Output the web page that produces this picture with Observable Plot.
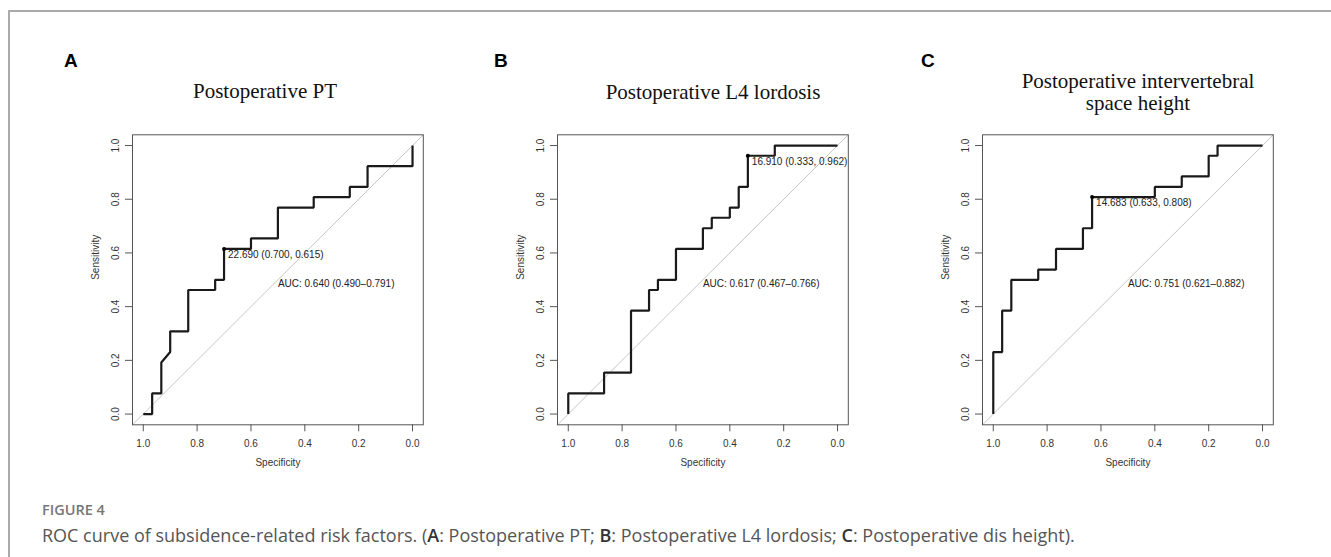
<!DOCTYPE html>
<html><head><meta charset="utf-8">
<script src="https://cdn.jsdelivr.net/npm/d3@7"></script>
<script src="https://cdn.jsdelivr.net/npm/@observablehq/plot@0.6"></script>
<style>
body{margin:0;background:#fff;}
#root{position:relative;width:1331px;height:557px;overflow:hidden;background:#fff;}
.hline{position:absolute;left:8px;top:10px;width:1323px;height:1.5px;background:#ababab;}
.vline{position:absolute;left:8px;top:10px;width:1.5px;height:547px;background:#ababab;}
.letter{position:absolute;font:bold 19px "Liberation Sans",Arial,sans-serif;line-height:19px;color:#000;}
.title{position:absolute;font:21px "Liberation Serif","Times New Roman",serif;line-height:22px;text-align:center;color:#111;transform:translateX(-50%);white-space:nowrap;}
.panel{position:absolute;}
.fig{position:absolute;left:42px;top:500px;font:600 14.5px "Open Sans",sans-serif;color:#777;line-height:20px;}
.cap{position:absolute;left:42px;top:523px;font:400 18px "Open Sans",sans-serif;color:#555;line-height:24px;white-space:nowrap;}
.cap b{font-weight:600;color:#333;}
</style></head><body><div id="root">
<div class="hline"></div><div class="vline"></div>
</div>
<script>
// ---------- data ----------
const panelLetters = ["A", "B", "C"];
const panelTitles = ["Postoperative PT", "Postoperative L4 lordosis", "Postoperative intervertebral<br>space height"];
const xTicks = [1.0, 0.8, 0.6, 0.4, 0.2, 0.0];
const yTicks = [0.0, 0.2, 0.4, 0.6, 0.8, 1.0];

const specA = [1, 0.967, 0.967, 0.933, 0.933, 0.9, 0.9, 0.833, 0.833, 0.733, 0.733, 0.7, 0.7, 0.6, 0.6, 0.5, 0.5, 0.367, 0.367, 0.233, 0.233, 0.167, 0.167, 0, 0];
const sensA = [0, 0, 0.077, 0.077, 0.192, 0.231, 0.308, 0.308, 0.462, 0.462, 0.5, 0.5, 0.615, 0.615, 0.654, 0.654, 0.769, 0.769, 0.808, 0.808, 0.846, 0.846, 0.923, 0.923, 1];

const specB = [1, 1, 0.867, 0.867, 0.767, 0.767, 0.7, 0.7, 0.667, 0.667, 0.6, 0.6, 0.5, 0.5, 0.467, 0.467, 0.4, 0.4, 0.367, 0.367, 0.333, 0.333, 0.233, 0.233, 0];
const sensB = [0, 0.077, 0.077, 0.154, 0.154, 0.385, 0.385, 0.462, 0.462, 0.5, 0.5, 0.615, 0.615, 0.692, 0.692, 0.731, 0.731, 0.769, 0.769, 0.846, 0.846, 0.962, 0.962, 1, 1];

const specC = [1, 1, 0.967, 0.967, 0.933, 0.933, 0.833, 0.833, 0.767, 0.767, 0.667, 0.667, 0.633, 0.633, 0.4, 0.4, 0.3, 0.3, 0.2, 0.2, 0.167, 0.167, 0];
const sensC = [0, 0.231, 0.231, 0.385, 0.385, 0.5, 0.5, 0.538, 0.538, 0.615, 0.615, 0.692, 0.692, 0.808, 0.808, 0.846, 0.846, 0.885, 0.885, 0.962, 0.962, 1, 1];

const bestSpec = [0.700, 0.333, 0.633];
const bestSens = [0.615, 0.962, 0.808];
const bestLabels = ["22.690 (0.700, 0.615)", "16.910 (0.333, 0.962)", "14.683 (0.633, 0.808)"];
const aucLabels = ["AUC: 0.640 (0.490\u20130.791)", "AUC: 0.617 (0.467\u20130.766)", "AUC: 0.751 (0.621\u20130.882)"];
const xLabel = "Specificity";
const yLabel = "Sensitivity";

// ---------- layout ----------
const boxLefts = [131.7, 556.7, 982.3];
const titleX = [265, 713, 1138];
const titleTop = [80, 81, 70];
const letterX = [64, 494, 921];
const ML = 70, MR = 20, MT = 14.3, MB = 60, PW = 290.8, PH = 290;
const svgTop = 134.3 - MT;

const root = document.getElementById("root");
const series = [[specA, sensA], [specB, sensB], [specC, sensC]];

series.forEach(([spec, sens], i) => {
  const data = spec.map((s, j) => ({spec: s, sens: sens[j]}));
  const best = {spec: bestSpec[i], sens: bestSens[i], label: bestLabels[i]};
  const chart = Plot.plot({
    width: ML + PW + MR,
    height: MT + PH + MB,
    marginLeft: ML, marginRight: MR, marginTop: MT, marginBottom: MB,
    style: {fontFamily: '"Liberation Sans", Arial, sans-serif', fontSize: "10px", color: "#333", background: "transparent", overflow: "visible"},
    x: {domain: [1.04, -0.04]},
    y: {domain: [-0.04, 1.04]},
    marks: [
      Plot.link([{x1: 1.04, y1: -0.04, x2: -0.04, y2: 1.04}], {x1: "x1", y1: "y1", x2: "x2", y2: "y2", stroke: "#c6c6c6", strokeWidth: 1}),
      Plot.line(data, {x: "spec", y: "sens", stroke: "#1a1a1a", strokeWidth: 2.2, strokeLinejoin: "miter", strokeLinecap: "butt"}),
      Plot.dot([best], {x: "spec", y: "sens", r: 2, fill: "#000", stroke: null}),
      Plot.text([best], {x: "spec", y: "sens", text: "label", textAnchor: "start", dx: 4, dy: 6, fill: "#222"}),
      Plot.text([{spec: 0.5, sens: 0.5, label: aucLabels[i]}], {x: "spec", y: "sens", text: "label", textAnchor: "start", dy: 4, fill: "#222"}),
      Plot.frame({stroke: "#555", strokeWidth: 1}),
      Plot.axisX({ticks: xTicks, tickFormat: d3.format(".1f"), tickSize: 7, tickPadding: 8, label: null, stroke: "#555"}),
      Plot.axisY({ticks: yTicks, tickFormat: d3.format(".1f"), tickSize: 7, tickPadding: 6, tickRotate: -90, label: null, stroke: "#555"}),
      Plot.text([xLabel], {frameAnchor: "bottom", dy: 41, text: d => d, fill: "#333"}),
      Plot.text([yLabel], {frameAnchor: "left", dx: -37, rotate: -90, text: d => d, fill: "#333"})
    ]
  });
  const wrap = document.createElement("div");
  wrap.className = "panel";
  wrap.style.left = (boxLefts[i] - ML) + "px";
  wrap.style.top = svgTop + "px";
  wrap.appendChild(chart);
  root.appendChild(wrap);

  const t = document.createElement("div");
  t.className = "title";
  t.style.left = titleX[i] + "px";
  t.style.top = titleTop[i] + "px";
  t.innerHTML = panelTitles[i];
  root.appendChild(t);

  const l = document.createElement("div");
  l.className = "letter";
  l.style.left = letterX[i] + "px";
  l.style.top = "51px";
  l.textContent = panelLetters[i];
  root.appendChild(l);
});

const fig = document.createElement("div");
fig.className = "fig";
fig.textContent = "FIGURE 4";
root.appendChild(fig);
const cap = document.createElement("div");
cap.className = "cap";
cap.innerHTML = "ROC curve of subsidence-related risk factors. (<b>A</b>: Postoperative PT; <b>B</b>: Postoperative L4 lordosis; <b>C</b>: Postoperative dis height).";
root.appendChild(cap);
</script>
</body></html>
